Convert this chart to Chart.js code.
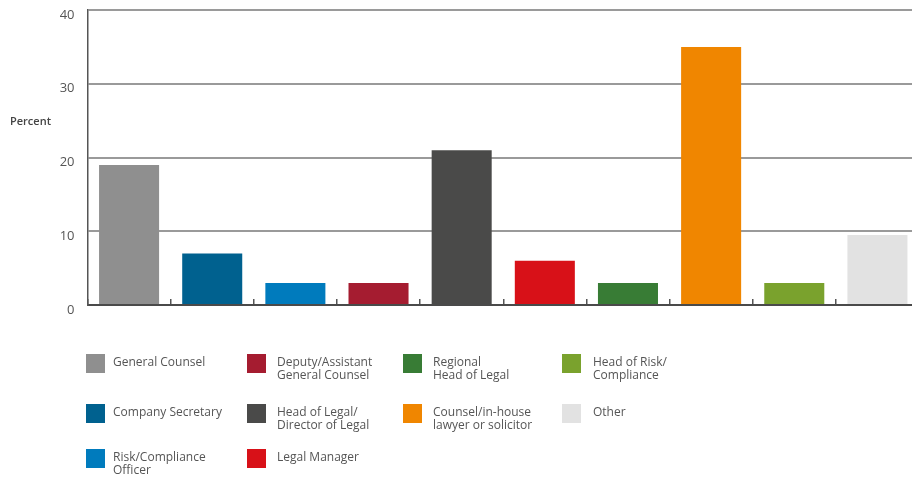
<!DOCTYPE html>
<html>
<head>
<meta charset="utf-8">
<script src="https://cdn.jsdelivr.net/npm/chart.js@4/dist/chart.umd.min.js"></script>
<style>
  html, body { margin: 0; padding: 0; background: #fff; overflow: hidden; }
  #wrap { position: relative; width: 912px; height: 480px; overflow: hidden; }
  #roleChart { position: absolute; left: 0; top: 0; }
  .legend-swatch { position: absolute; width: 19px; height: 19px; }
  .legend-text {
    position: absolute; white-space: pre; color: #555;
    font: 12px "Open Sans", sans-serif; line-height: 13px;
  }
</style>
</head>
<body>
<div id="wrap">
  <canvas id="roleChart" width="919" height="480"></canvas>
  <div id="legend"></div>
</div>
<script>
// Job titles of respondents, share in percent
const roles = [
  'General Counsel',
  'Company Secretary',
  'Risk/Compliance\nOfficer',
  'Deputy/Assistant\nGeneral Counsel',
  'Head of Legal/\nDirector of Legal',
  'Legal Manager',
  'Regional\nHead of Legal',
  'Counsel/in-house\nlawyer or solicitor',
  'Head of Risk/\nCompliance',
  'Other'
];
const shares = [19, 7, 3, 3, 21, 6, 3, 35, 3, 9.5];
const roleColors = [
  '#8f8f8f', '#00618f', '#007bbd', '#a51c30', '#4a4a49',
  '#d81118', '#387c35', '#f08600', '#7aa22d', '#e2e2e2'
];
const yTicks = [0, 10, 20, 30, 40];

// Legend: columns of role indices
const legendColumns = [[0, 1, 2], [3, 4, 5], [6, 7], [8, 9]];
const colSwatchX = [86, 247, 403, 562];
const colTextX = [113, 277, 433, 593];
const rowTop = [354, 404, 449];

function buildLegend() {
  const box = document.getElementById('legend');
  legendColumns.forEach((col, c) => {
    col.forEach((idx, r) => {
      const sw = document.createElement('div');
      sw.className = 'legend-swatch';
      sw.style.left = colSwatchX[c] + 'px';
      sw.style.top = rowTop[r] + 'px';
      sw.style.background = roleColors[idx];
      box.appendChild(sw);

      const tx = document.createElement('div');
      tx.className = 'legend-text';
      tx.style.left = colTextX[c] + 'px';
      tx.style.top = (rowTop[r] + 1) + 'px';
      tx.textContent = roles[idx];
      box.appendChild(tx);
    });
  });
}

// Horizontal "Percent" axis caption
const axisCaption = {
  id: 'axisCaption',
  afterDraw(chart) {
    const ctx = chart.ctx;
    ctx.save();
    ctx.font = '600 11px "Open Sans", sans-serif';
    ctx.fillStyle = '#444';
    ctx.textAlign = 'left';
    ctx.textBaseline = 'middle';
    ctx.fillText('Percent', 10, 122);
    ctx.restore();
  }
};

const ctx = document.getElementById('roleChart').getContext('2d');
new Chart(ctx, {
  type: 'bar',
  data: {
    labels: roles,
    datasets: [{
      data: shares,
      backgroundColor: roleColors,
      borderWidth: 0,
      barPercentage: 0.722,
      categoryPercentage: 1
    }]
  },
  options: {
    responsive: false,
    animation: false,
    layout: { padding: { top: 10, right: 0, bottom: 175, left: 0 } },
    plugins: {
      legend: { display: false },
      tooltip: { enabled: false }
    },
    scales: {
      x: {
        offset: true,
        afterFit(scale) { scale.height = 0; },
        grid: {
          offset: true,
          drawOnChartArea: false,
          drawTicks: true,
          tickLength: -6,
          color: '#555',
          lineWidth: 1.5
        },
        border: { color: '#4a4a4a', width: 2 },
        ticks: { display: false }
      },
      y: {
        min: 0,
        max: 40,
        afterFit(scale) {
          scale.width = 87.5;
          scale.paddingTop = 0;
          scale.paddingBottom = 0;
        },
        afterBuildTicks(scale) {
          scale.ticks = yTicks.map(v => ({ value: v }));
        },
        grid: { color: '#9a9a9a', lineWidth: 2, drawTicks: false },
        border: { color: '#555', width: 1.5 },
        ticks: {
          padding: 13,
          labelOffset: 5,
          color: '#555',
          font: { family: '"Open Sans", sans-serif', size: 13 }
        }
      }
    }
  },
  plugins: [axisCaption]
});

buildLegend();
</script>
</body>
</html>
